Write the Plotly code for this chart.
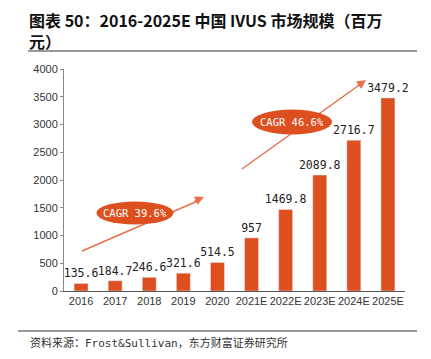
import plotly.graph_objects as go

categories = ["2016", "2017", "2018", "2019", "2020", "2021E", "2022E", "2023E", "2024E", "2025E"]
values = [135.6, 184.7, 246.6, 321.6, 514.5, 957, 1469.8, 2089.8, 2716.7, 3479.2]
labels = ["135.6", "184.7", "246.6", "321.6", "514.5", "957", "1469.8", "2089.8", "2716.7", "3479.2"]
y_ticks = [0, 500, 1000, 1500, 2000, 2500, 3000, 3500, 4000]
cagr_labels = ["CAGR 39.6%", "CAGR 46.6%"]

W, H = 431, 359
OFF = 8  # page body margin offset in the screenshot
PL, PR, PT, PB = 64, 405, 69, 291
L, T = PL - OFF, PT - OFF
R, B = W - (PR - OFF), H - (PB - OFF)
PW, PH = PR - PL, PB - PT

def px(x):
    return (x - PL) / PW

def py(y):
    return (PB - y) / PH

BAR = "#DE4F1F"
ARROW = "#E8704A"

fig = go.Figure()
fig.add_trace(go.Bar(
    x=categories, y=values, text=labels, textposition="outside",
    constraintext="none",
    marker_color=BAR, cliponaxis=False,
    textfont=dict(family="DejaVu Sans Mono", size=11.5, color="#222"),
))

shapes = []
annotations = []

arrows = [((82, 251), (204, 197)), ((242, 169), (366, 80))]
for (x0, y0), (x1, y1) in arrows:
    shapes.append(dict(type="line", xref="paper", yref="paper",
                       x0=px(x0), y0=py(y0), x1=px(x1 - 4), y1=py(y1 + 3),
                       line=dict(color=ARROW, width=1.5), layer="below"))
    dx, dy = x1 - x0, y1 - y0
    ln = (dx * dx + dy * dy) ** 0.5
    annotations.append(dict(xref="paper", yref="paper", x=px(x1), y=py(y1),
                            ax=-dx / ln * 12, ay=-dy / ln * 12, text="",
                            showarrow=True, arrowhead=2, arrowsize=1.2,
                            arrowwidth=1.5, arrowcolor=ARROW, standoff=0))

ellipses = [((135, 213), 77, 23), ((292, 122), 80, 25)]
for ((cx, cy), w, h), lab in zip(ellipses, cagr_labels):
    shapes.append(dict(type="circle", xref="paper", yref="paper",
                       x0=px(cx - w / 2), x1=px(cx + w / 2),
                       y0=py(cy + h / 2), y1=py(cy - h / 2),
                       fillcolor=BAR, line=dict(width=0), layer="below"))
    annotations.append(dict(xref="paper", yref="paper", x=px(cx), y=py(cy),
                            xanchor="center", yanchor="middle",
                            text=lab, showarrow=False,
                            font=dict(family="DejaVu Sans Mono", size=10.5, color="white")))

annotations.append(dict(xref="paper", yref="paper", x=px(27), y=py(30),
                        xanchor="left", yanchor="middle", align="left",
                        text="<b>图表 50：2016-2025E 中国 IVUS 市场规模（百万<br>元）</b>",
                        showarrow=False,
                        font=dict(family="Noto Sans CJK SC", size=16, color="#111")))

annotations.append(dict(xref="paper", yref="paper", x=px(28), y=py(343),
                        xanchor="left", yanchor="middle",
                        text="资料来源：Frost&Sullivan，东方财富证券研究所",
                        showarrow=False,
                        font=dict(family="DejaVu Sans Mono, Noto Sans CJK SC", size=11, color="#333")))

shapes.append(dict(type="line", xref="paper", yref="paper", x0=px(28), x1=px(417),
                   y0=py(51), y1=py(51), line=dict(color="#777", width=1.5)))
shapes.append(dict(type="line", xref="paper", yref="paper", x0=px(18), x1=px(417),
                   y0=py(331), y1=py(331), line=dict(color="#777", width=1.5)))

fig.update_layout(
    width=W, height=H, margin=dict(l=L, r=R, t=T, b=B),
    paper_bgcolor="white", plot_bgcolor="white",
    showlegend=False, bargap=0.59,
    shapes=shapes, annotations=annotations,
    font=dict(family="Liberation Sans, Arial", size=11, color="#333"),
)
fig.update_xaxes(showline=True, linecolor="#555", linewidth=1, ticks="",
                 tickfont=dict(size=11, color="#333"), showgrid=False)
fig.update_yaxes(range=[0, 4000], tickvals=y_ticks, showline=True, linecolor="#888",
                 linewidth=1, ticks="outside", ticklen=3, tickcolor="#888",
                 showgrid=False, zeroline=False, tickfont=dict(size=11, color="#333"))

fig.write_html("out.html")
